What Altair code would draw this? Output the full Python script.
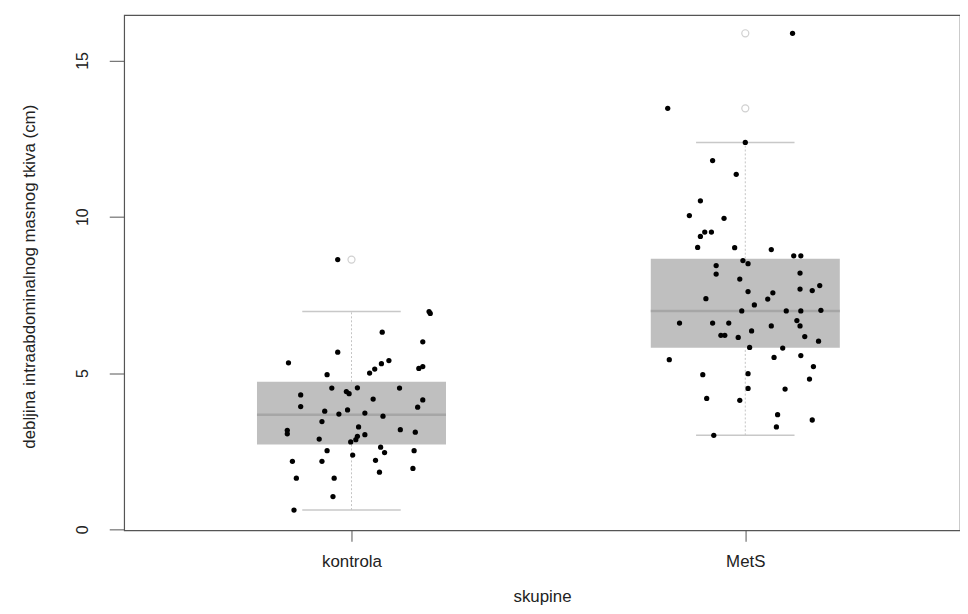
import altair as alt
import pandas as pd

# ---- data ----
skupine = ["kontrola", "MetS"]
pozicije = [1, 2]

kontrola_vrednosti = [6.97, 6.91, 6.31, 6.00, 5.67, 5.33, 5.40, 5.30, 5.13, 5.00,
                      5.21, 5.15, 4.95, 4.52, 4.41, 4.34, 4.53, 4.52, 4.30, 4.17,
                      4.14, 3.93, 3.91, 3.78, 3.82, 3.69, 3.72, 3.62, 3.45, 3.28,
                      3.17, 3.06, 3.19, 3.11, 3.03, 2.98, 2.87, 2.80, 2.89, 2.63,
                      2.46, 2.52, 2.52, 2.38, 2.18, 2.18, 2.21, 1.95, 1.83, 1.64,
                      1.64, 1.05, 0.62, 8.63]
kontrola_jitter = [0.197, 0.200, 0.078, 0.181, -0.035, -0.160, 0.095, 0.076, 0.059, 0.046,
                   0.181, 0.171, -0.062, -0.050, -0.013, -0.006, 0.015, 0.122, -0.129, 0.055,
                   0.181, -0.129, 0.168, -0.068, -0.010, -0.032, 0.034, 0.080, -0.075, 0.018,
                   -0.163, -0.163, 0.124, 0.162, 0.034, 0.015, 0.011, -0.002, -0.082, 0.074,
                   0.084, -0.062, 0.159, 0.003, -0.150, -0.075, 0.061, 0.156, 0.071, -0.140,
                   -0.044, -0.047, -0.146, -0.035]

mets_vrednosti = [15.87, 13.47, 12.38, 11.80, 11.36, 10.51, 10.04, 9.95, 9.51, 9.51,
                  9.37, 9.02, 9.01, 8.95, 8.75, 8.75, 8.60, 8.50, 8.44, 8.17,
                  8.20, 8.01, 7.80, 7.69, 7.64, 7.61, 7.57, 7.37, 7.38, 7.18,
                  6.99, 6.99, 6.99, 7.01, 6.60, 6.60, 6.60, 6.68, 6.51, 6.51,
                  6.35, 6.21, 6.21, 6.14, 6.17, 6.02, 5.82, 5.80, 5.50, 5.56,
                  5.43, 5.21, 4.95, 4.98, 4.81, 4.51, 4.49, 4.19, 4.13, 3.67,
                  3.50, 3.28, 3.01]
mets_jitter = [0.120, -0.197, 0.000, -0.083, -0.023, -0.114, -0.142, -0.054, -0.103, -0.086,
               -0.114, -0.121, -0.027, 0.066, 0.123, 0.141, -0.006, 0.007, -0.074, -0.074,
               0.139, -0.014, 0.189, 0.139, 0.170, 0.007, 0.070, 0.057, -0.100, 0.023,
               -0.009, 0.104, 0.141, 0.192, -0.167, -0.083, -0.042, 0.131, 0.139, 0.066,
               0.016, -0.062, -0.052, -0.018, 0.151, 0.186, 0.011, 0.095, 0.073, 0.141,
               -0.193, 0.173, -0.108, 0.007, 0.163, 0.007, 0.101, -0.098, -0.014, 0.082,
               0.170, 0.079, -0.080]

q1 = [2.72, 5.81]
mediana = [3.67, 6.99]
q3 = [4.72, 8.66]
brk_spodaj = [0.62, 3.01]
brk_zgoraj = [6.97, 12.38]

osamelci_skupina = ["kontrola", "MetS", "MetS"]
osamelci_vrednosti = [8.63, 13.47, 15.87]

# ---- tables ----
tocke = pd.DataFrame({
    "skupina": ["kontrola"] * len(kontrola_vrednosti) + ["MetS"] * len(mets_vrednosti),
    "vrednost": kontrola_vrednosti + mets_vrednosti,
    "jitter": kontrola_jitter + mets_jitter,
})
tocke["pos"] = tocke["skupina"].map(dict(zip(skupine, pozicije)))

skatle = pd.DataFrame({
    "skupina": skupine, "pos": pozicije, "q1": q1, "mediana": mediana,
    "q3": q3, "lo": brk_spodaj, "hi": brk_zgoraj,
})

osamelci = pd.DataFrame({"skupina": osamelci_skupina, "vrednost": osamelci_vrednosti})
osamelci["pos"] = osamelci["skupina"].map(dict(zip(skupine, pozicije)))

# ---- scales / axes ----
FONT = "Liberation Sans"
xscale = alt.Scale(domain=[0.4227, 2.5452], nice=False, zero=False)
yscale = alt.Scale(domain=[-0.03, 16.45], nice=False, zero=False)

xaxis = alt.Axis(values=[1, 2], labelExpr="datum.value == 1 ? 'kontrola' : 'MetS'",
                 title="skupine", grid=False, domain=False, tickSize=11,
                 tickColor="#555", labelFontSize=17, labelPadding=12,
                 labelColor="#222", titleFontSize=17, titleFontWeight="normal",
                 titleColor="#222", titleY=72, titleBaseline="alphabetic", labelFont=FONT,
                 titleFont=FONT)
yaxis = alt.Axis(values=[0, 5, 10, 15], title="debljina intraabdominalnog masnog tkiva (cm)",
                 grid=False, domain=False, tickSize=15, tickColor="#555",
                 labelAngle=-90, labelAlign="center", labelBaseline="bottom",
                 labelPadding=19, labelFontSize=16, labelColor="#222",
                 titleFontSize=17, titleFontWeight="normal", titleColor="#222",
                 titleAngle=-90, titleX=-95, titleY=263, titleAlign="center",
                 titleBaseline="middle", labelFont=FONT, titleFont=FONT)

HW = 0.24   # box half width
CW = 0.125  # cap half width

base_box = alt.Chart(skatle).transform_calculate(
    xl=f"datum.pos - {HW}", xr=f"datum.pos + {HW}",
    cl=f"datum.pos - {CW}", cr=f"datum.pos + {CW}")

box = base_box.mark_rect(color="#bfbfbf").encode(
    x=alt.X("xl:Q", scale=xscale, axis=xaxis),
    x2="xr:Q",
    y=alt.Y("q1:Q", scale=yscale, axis=yaxis),
    y2="q3:Q",
)
med = base_box.mark_rule(color="#a6a6a6", strokeWidth=2.5).encode(
    x=alt.X("xl:Q", scale=xscale, axis=xaxis), x2="xr:Q",
    y=alt.Y("mediana:Q", scale=yscale, axis=yaxis),
)
wh_top = base_box.mark_rule(color="#c4c4c4", strokeDash=[2, 2], strokeWidth=1).encode(
    x=alt.X("pos:Q", scale=xscale, axis=xaxis),
    y=alt.Y("q3:Q", scale=yscale, axis=yaxis), y2="hi:Q",
)
wh_bot = base_box.mark_rule(color="#c4c4c4", strokeDash=[2, 2], strokeWidth=1).encode(
    x=alt.X("pos:Q", scale=xscale, axis=xaxis),
    y=alt.Y("lo:Q", scale=yscale, axis=yaxis), y2="q1:Q",
)
cap_top = base_box.mark_rule(color="#c8c8c8", strokeWidth=1.5).encode(
    x=alt.X("cl:Q", scale=xscale, axis=xaxis), x2="cr:Q",
    y=alt.Y("hi:Q", scale=yscale, axis=yaxis),
)
cap_bot = base_box.mark_rule(color="#c8c8c8", strokeWidth=1.5).encode(
    x=alt.X("cl:Q", scale=xscale, axis=xaxis), x2="cr:Q",
    y=alt.Y("lo:Q", scale=yscale, axis=yaxis),
)
out = alt.Chart(osamelci).mark_point(shape="circle", filled=False, color="#bdbdbd",
                                     strokeWidth=1.2, size=50).encode(
    x=alt.X("pos:Q", scale=xscale, axis=xaxis),
    y=alt.Y("vrednost:Q", scale=yscale, axis=yaxis),
)
pts = alt.Chart(tocke).transform_calculate(xj="datum.pos + datum.jitter").mark_circle(
    color="#000000", opacity=1, size=28).encode(
    x=alt.X("xj:Q", scale=xscale, axis=xaxis),
    y=alt.Y("vrednost:Q", scale=yscale, axis=yaxis),
)

chart = alt.layer(box, wh_top, wh_bot, cap_top, cap_bot, med, out, pts).properties(
    width=842, height=519,
    autosize=alt.AutoSizeParams(type="none"),
    padding={"left": 117, "top": 5, "right": 0, "bottom": 74},
    background="white",
).configure_view(stroke="#555555", strokeWidth=1.2)

chart.save("out.html", embed_options={"renderer": "svg", "actions": False})
